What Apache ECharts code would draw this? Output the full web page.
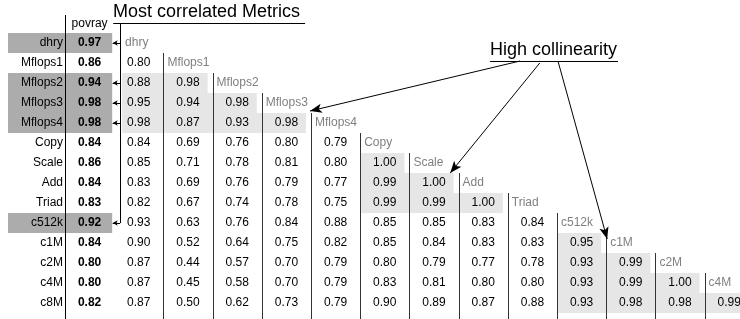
<!DOCTYPE html>
<html>
<head>
<meta charset="utf-8">
<script src="https://cdn.jsdelivr.net/npm/echarts@6.0.0/dist/echarts.min.js"></script>
<style>
  html, body { margin: 0; padding: 0; background: #fff; }
  #main { width: 740px; height: 319px; }
</style>
</head>
<body>
<div id="main"></div>
<script>
// metrics, in table order (rows; the first 13 are also the matrix columns)
const metrics = ['dhry', 'Mflops1', 'Mflops2', 'Mflops3', 'Mflops4', 'Copy', 'Scale', 'Add', 'Triad',
  'c512k', 'c1M', 'c2M', 'c4M', 'c8M'];
// correlation of every metric with povray
const povray = [0.97, 0.86, 0.94, 0.98, 0.98, 0.84, 0.86, 0.84, 0.83, 0.92, 0.84, 0.80, 0.80, 0.82];
// lower triangle of the metric-metric correlation matrix (row i, columns 0..i-1)
const corr = [
  [],
  [0.80],
  [0.88, 0.98],
  [0.95, 0.94, 0.98],
  [0.98, 0.87, 0.93, 0.98],
  [0.84, 0.69, 0.76, 0.80, 0.79],
  [0.85, 0.71, 0.78, 0.81, 0.80, 1.00],
  [0.83, 0.69, 0.76, 0.79, 0.77, 0.99, 1.00],
  [0.82, 0.67, 0.74, 0.78, 0.75, 0.99, 0.99, 1.00],
  [0.93, 0.63, 0.76, 0.84, 0.88, 0.85, 0.85, 0.83, 0.84],
  [0.90, 0.52, 0.64, 0.75, 0.82, 0.85, 0.84, 0.83, 0.83, 0.95],
  [0.87, 0.44, 0.57, 0.70, 0.79, 0.80, 0.79, 0.77, 0.78, 0.93, 0.99],
  [0.87, 0.45, 0.58, 0.70, 0.79, 0.83, 0.81, 0.80, 0.80, 0.93, 0.99, 1.00],
  [0.87, 0.50, 0.62, 0.73, 0.79, 0.90, 0.89, 0.87, 0.88, 0.93, 0.98, 0.98, 0.99]
];
// rows picked as most correlated with povray
const mostCorrelated = [0, 2, 3, 4, 9];
// collinear groups: [first row, last row, first column]
const collinearGroups = [[2, 4, 0], [6, 8, 5], [10, 13, 9]];

const FONT = '"Liberation Sans", Arial, Helvetica, sans-serif';
const bracketX = -0.38; // x (in column units) of the "most correlated" bracket

const cellData = [];
corr.forEach((row, i) => row.forEach((v, j) => cellData.push([j, i, v])));
const povData = povray.map((v, i) => [-1, i, v]);
const labelData = metrics.map((m, i) => [-2, i, m]);
const headerData = metrics.slice(0, 13).map((m, j) => [j, j, m]);
const darkData = mostCorrelated.map(r => [-1, r]);
const lightData = [];
collinearGroups.forEach(g => { for (let r = g[0]; r <= g[1]; r++) lightData.push([g[2], r]); });
const ruleData = [[-1, -1.4]];
for (let j = 1; j < 13; j++) ruleData.push([j, j - 0.5]);

const chart = echarts.init(document.getElementById('main'), null, { renderer: 'canvas' });

const crisp = v => Math.round(v) + 0.5;

function textSeries(name, data, styleFn) {
  return {
    name, type: 'custom', data, silent: true, z: 5,
    encode: { x: 0, y: 1 },
    renderItem: (params, api) => {
      const d = data[params.dataIndex];
      return styleFn(d, api, params);
    }
  };
}

const option = {
  animation: false,
  backgroundColor: '#fff',
  grid: { left: 0, top: 15, width: 740, height: 304 },
  xAxis: { type: 'value', min: -2.821, max: 12.22, show: false },
  yAxis: { type: 'value', inverse: true, min: -1.4, max: 13.8, show: false },
  graphic: [
    { type: 'text', left: 113, top: 3, style: { text: 'Most correlated Metrics', font: '18px ' + FONT, fill: '#000' } },
    { type: 'text', left: 490, top: 41, style: { text: 'High collinearity', font: '18px ' + FONT, fill: '#000' } }
  ],
  series: [
    {
      name: 'most correlated', type: 'custom', data: darkData, silent: true, z: 1,
      encode: { x: 0, y: 1 },
      renderItem: (params, api) => {
        const r = api.value(1);
        const top = api.coord([0, r - 0.5])[1];
        const bot = api.coord([0, r + 0.5])[1];
        const x1 = api.coord([-0.5, r])[0] - 2;
        const x0 = params.coordSys.x + 8;
        return { type: 'rect', shape: { x: x0, y: top, width: x1 - x0, height: bot - top }, style: { fill: '#acacac' } };
      }
    },
    {
      name: 'collinear', type: 'custom', data: lightData, silent: true, z: 1,
      encode: { x: 0, y: 1 },
      renderItem: (params, api) => {
        const c = api.value(0), r = api.value(1);
        const bx = api.coord([bracketX, 0])[0];
        const x0 = Math.max(api.coord([c - 0.5, r])[0] + 1, bx + 2);
        const x1 = api.coord([r - 0.5, r])[0] - 5;
        const top = api.coord([0, r - 0.5])[1];
        const bot = api.coord([0, r + 0.5])[1];
        return { type: 'rect', shape: { x: x0, y: top, width: x1 - x0, height: bot - top }, style: { fill: '#e6e6e6' } };
      }
    },
    {
      name: 'rules', type: 'custom', data: ruleData, silent: true, z: 3,
      encode: { x: 0, y: 1 },
      renderItem: (params, api) => {
        const c = api.value(0);
        const p = api.coord([c - 0.5, api.value(1)]);
        const x = crisp(p[0]);
        const bottom = params.coordSys.y + params.coordSys.height;
        return {
          type: 'line', shape: { x1: x, y1: p[1], x2: x, y2: bottom },
          style: { stroke: c < 0 ? '#000' : '#333', lineWidth: 1 }
        };
      },
      markLine: {
        silent: true, animation: false,
        symbol: ['none', 'none'],
        label: { show: false },
        lineStyle: { color: '#000', width: 1, type: 'solid' },
        emphasis: { disabled: true },
        data: [
          // bracket of the most correlated metrics
          [{ coord: [-0.52, -1.0] }, { coord: [3.38, -1.0] }],
          [{ coord: [bracketX, -1.0] }, { coord: [bracketX, 9] }],
          ...mostCorrelated.map(r => [
            { coord: [bracketX, r] },
            { coord: [-0.53, r], symbol: 'arrow', symbolSize: [4, 5] }
          ]),
          // high collinearity callout
          [{ coord: [7.14, 0.9] }, { coord: [9.74, 0.9] }],
          [{ coord: [7.75, 0.9] }, { coord: [3.48, 3.4], symbol: 'arrow', symbolSize: [7, 12] }],
          [{ coord: [8.15, 1.0] }, { coord: [6.33, 6.5], symbol: 'arrow', symbolSize: [7, 12] }],
          [{ coord: [8.52, 0.9] }, { coord: [9.52, 9.8], symbol: 'arrow', symbolSize: [7, 12] }]
        ]
      }
    },
    textSeries('labels', labelData, (d, api) => {
      const p = api.coord([-1.5, d[1]]);
      return { type: 'text', x: p[0] - 2, y: p[1], style: { text: d[2], font: '12px ' + FONT, fill: '#000', align: 'right', verticalAlign: 'middle' } };
    }),
    textSeries('povray', povData, (d, api) => {
      const p = api.coord([d[0], d[1]]);
      return { type: 'text', x: p[0], y: p[1], style: { text: d[2].toFixed(2), font: 'bold 12px ' + FONT, fill: '#000', align: 'center', verticalAlign: 'middle' } };
    }),
    textSeries('povray header', [[-1, -1, 'povray']], (d, api) => {
      const p = api.coord([d[0], d[1]]);
      return { type: 'text', x: p[0], y: p[1] + 1, style: { text: d[2], font: '12px ' + FONT, fill: '#000', align: 'center', verticalAlign: 'middle' } };
    }),
    textSeries('headers', headerData, (d, api) => {
      const p = api.coord([d[0] - 0.5, d[1]]);
      const bx = api.coord([bracketX, 0])[0];
      return { type: 'text', x: Math.max(p[0] + 4, bx + 5), y: p[1], style: { text: d[2], font: '12px ' + FONT, fill: '#808080', align: 'left', verticalAlign: 'middle' } };
    }),
    textSeries('correlation', cellData, (d, api) => {
      const p = api.coord([d[0], d[1]]);
      return { type: 'text', x: p[0], y: p[1], style: { text: d[2].toFixed(2), font: '12px ' + FONT, fill: '#000', align: 'center', verticalAlign: 'middle' } };
    })
  ]
};

chart.setOption(option);
</script>
</body>
</html>
